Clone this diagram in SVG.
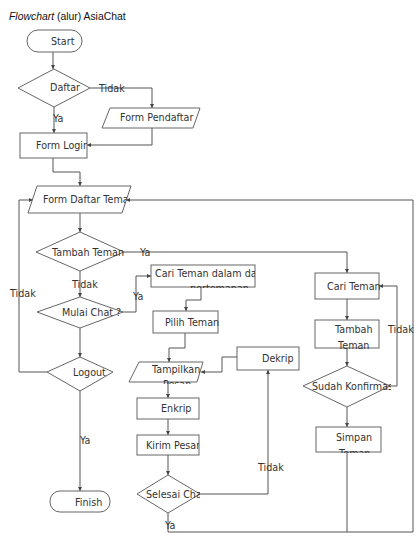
<svg xmlns="http://www.w3.org/2000/svg" width="417" height="538" viewBox="0 0 417 538">
<style>
.n{fill:#fff;stroke:#666;stroke-width:1}
.t{font-family:"DejaVu Sans",sans-serif;font-size:9.6px;fill:#333}
.l{font-family:"DejaVu Sans",sans-serif;font-size:9.6px;fill:#333}
.c{fill:none;stroke:#555;stroke-width:1;marker-end:url(#a)}
.c0{fill:none;stroke:#555;stroke-width:1}
</style>
<defs>
<marker id="a" markerUnits="userSpaceOnUse" markerWidth="5" markerHeight="5" refX="4" refY="2" orient="auto"><path d="M0,0 L4,2 L0,4 z" fill="#444"/></marker>
<clipPath id="k1"><polygon points="110,108 200,108 193,128 102,128"/></clipPath>
<clipPath id="k2"><rect x="20" y="133" width="67" height="25"/></clipPath>
<clipPath id="k3"><polygon points="37,186 131,186 122,213 28,213"/></clipPath>
<clipPath id="k4"><rect x="151" y="265" width="104" height="23"/></clipPath>
<clipPath id="k5"><rect x="125" y="362" width="80" height="22"/></clipPath>
<clipPath id="k6"><rect x="137" y="435" width="62" height="20"/></clipPath>
<clipPath id="k7"><rect x="137" y="475" width="63" height="38"/></clipPath>
<clipPath id="k8"><rect x="315" y="320" width="64" height="29"/></clipPath>
<clipPath id="k9"><rect x="303" y="366" width="88" height="41"/></clipPath>
<clipPath id="k10"><rect x="316" y="427" width="65" height="26"/></clipPath>
</defs>
<rect width="417" height="538" fill="#fff"/>
<text x="9" y="20" font-family="Liberation Sans,Arial,sans-serif" font-size="10.4" fill="#111"><tspan font-style="italic">Flowchart</tspan> (alur) AsiaChat</text>

<g id="connectors">
<path class="c" d="M53,52 V69"/>
<path class="c" d="M90,88 H152 V108"/>
<path class="c" d="M54,107 V133"/>
<path class="c" d="M152,128 V145 H87"/>
<path class="c" d="M53,158 V172 H80 V186"/>
<path class="c" d="M80,213 V232"/>
<path class="c" d="M124,252 H347 V273"/>
<path class="c" d="M80,271 V297"/>
<path class="c" d="M123,312 H136 V276 H151"/>
<path class="c" d="M201,287 V300 H186 V311"/>
<path class="c" d="M185,333 V348 H169 V362"/>
<path class="c" d="M168,382 V398"/>
<path class="c" d="M168,419 V435"/>
<path class="c" d="M168,455 V475"/>
<path class="c" d="M200,494 H268 V370"/>
<path class="c" d="M237,357 H222 V372 H201"/>
<path class="c" d="M168,513 V532 H413 V200 H126"/>
<path class="c0" d="M347,452 V532"/>
<path class="c" d="M80,328 V357"/>
<path class="c" d="M47,372 H19 V200 H33"/>
<path class="c" d="M80,391 V491"/>
<path class="c" d="M347,299 V320"/>
<path class="c" d="M347,348 V366"/>
<path class="c" d="M390,386 H397 V286 H379"/>
<path class="c" d="M347,407 V427"/>
<text class="l" x="99" y="92">Tidak</text>
<text class="l" x="53" y="122">Ya</text>
<text class="l" x="140" y="256">Ya</text>
<text class="l" x="72" y="288">Tidak</text>
<text class="l" x="133" y="300">Ya</text>
<text class="l" x="10" y="297">Tidak</text>
<text class="l" x="80" y="444">Ya</text>
<text class="l" x="258" y="471">Tidak</text>
<text class="l" x="165" y="529">Ya</text>
<text class="l" x="388" y="333">Tidak</text>
</g>

<g id="start"><rect class="n" x="27" y="30" width="55" height="22" rx="11"/><text class="t" x="51" y="45">Start</text></g>
<g id="daftar"><polygon class="n" points="18,88 54,69 90,88 54,107"/><text class="t" x="50" y="91">Daftar</text></g>
<g id="formPendaftar"><polygon class="n" points="110,108 200,108 193,128 102,128"/><text class="t" x="120" y="121" clip-path="url(#k1)">Form Pendaftar</text></g>
<g id="formLogin"><rect class="n" x="20" y="133" width="67" height="25"/><text class="t" x="36" y="149" clip-path="url(#k2)">Form Login</text></g>
<g id="formDaftarTeman"><polygon class="n" points="37,186 131,186 122,213 28,213"/><text class="t" x="43" y="203" clip-path="url(#k3)">Form Daftar Teman</text></g>
<g id="tambahTemanDecision"><polygon class="n" points="36,252 80,232 124,252 80,271"/><text class="t" x="52" y="256">Tambah Teman</text></g>
<g id="mulaiChat"><polygon class="n" points="37,312 80,297 123,312 80,328"/><text class="t" x="62" y="316">Mulai Chat ?</text></g>
<g id="logout"><polygon class="n" points="47,372 80,357 113,372 80,391"/><text class="t" x="73" y="376">Logout</text></g>
<g id="finish"><rect class="n" x="50" y="491" width="60" height="21" rx="10"/><text class="t" x="75" y="506">Finish</text></g>
<g id="cariTemanDaftar"><rect class="n" x="151" y="265" width="104" height="22"/><g clip-path="url(#k4)"><text class="t" x="155" y="277">Cari Teman dalam daftar</text><text class="t" x="190" y="292">pertemanan</text></g></g>
<g id="pilihTeman"><rect class="n" x="153" y="311" width="65" height="22"/><text class="t" x="165" y="326">Pilih Teman</text></g>
<g id="tampilkanPesan"><polygon class="n" points="139,362 203,362 197,382 129,382"/><g clip-path="url(#k5)"><text class="t" x="152" y="373">Tampilkan</text><text class="t" x="163" y="388">Pesan</text></g></g>
<g id="enkrip"><rect class="n" x="137" y="398" width="62" height="21"/><text class="t" x="161" y="412">Enkrip</text></g>
<g id="kirimPesan"><rect class="n" x="137" y="435" width="62" height="20"/><text class="t" x="146" y="449" clip-path="url(#k6)">Kirim Pesan</text></g>
<g id="selesaiChat"><polygon class="n" points="137,494 168,475 200,494 168,513"/><text class="t" x="146" y="498" clip-path="url(#k7)">Selesai Chat</text></g>
<g id="dekrip"><rect class="n" x="237" y="347" width="62" height="23"/><text class="t" x="262" y="362">Dekrip</text></g>
<g id="cariTeman"><rect class="n" x="315" y="273" width="64" height="26"/><text class="t" x="327" y="290">Cari Teman</text></g>
<g id="tambahTemanBox"><rect class="n" x="315" y="320" width="64" height="28"/><g clip-path="url(#k8)"><text class="t" x="335" y="333">Tambah</text><text class="t" x="338" y="349">Teman</text></g></g>
<g id="sudahKonfirmasi"><polygon class="n" points="303,386 347,366 390,386 347,407"/><text class="t" x="312" y="390" clip-path="url(#k9)">Sudah Konfirmasi</text></g>
<g id="simpanTeman"><rect class="n" x="316" y="427" width="65" height="25"/><g clip-path="url(#k10)"><text class="t" x="336" y="441">Simpan</text><text class="t" x="339" y="457">Teman</text></g></g>
</svg>
